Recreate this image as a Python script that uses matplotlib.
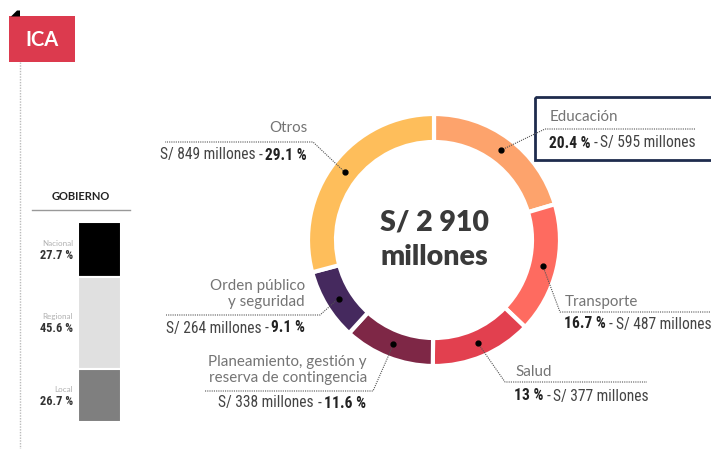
import matplotlib.pyplot as plt
import numpy as np
from matplotlib import font_manager
from matplotlib.patches import Rectangle, Polygon

# presupuesto por sector (millones de soles)
sectores = ['Educación', 'Transporte', 'Salud',
            'Planeamiento, gestión y\nreserva de contingencia',
            'Orden público\ny seguridad', 'Otros']
montos = [595, 487, 377, 338, 264, 849]
porcentajes = [20.4, 16.7, 13, 11.6, 9.1, 29.1]
colores = ['#FDA36C', '#FE6B60', '#E2404F', '#7E2746', '#45295E', '#FEBE5B']
total = 2910

# participacion por nivel de gobierno
niveles = ['Nacional', 'Regional', 'Local']
part_gob = [27.7, 45.6, 26.7]
colores_gob = ['#000000', '#E0E0E0', '#7F7F7F']

# fuente angosta para las cifras, si esta disponible
instaladas = {f.name for f in font_manager.fontManager.ttflist}
NUM_FONT, NUM_SIZE = 'Liberation Sans', 9.6
for fam, size in [('Roboto Condensed', 11.2), ('Liberation Sans Narrow', 11.5),
                  ('Open Sans Condensed', 11)]:
    if fam in instaladas:
        NUM_FONT, NUM_SIZE = fam, size
        break

W, H = 711, 449
fig = plt.figure(figsize=(W / 100, H / 100), dpi=100)
ax = fig.add_axes([0, 0, 1, 1])

cx, cy, R, ancho = 434, 240, 126, 28
# eje y invertido: se arranca en -90 y se gira en sentido antihorario
ax.pie(porcentajes, colors=colores, startangle=-90, counterclock=True,
       center=(cx, cy), radius=R,
       wedgeprops=dict(width=ancho, edgecolor='white', linewidth=3))
ax.set_xlim(0, W)
ax.set_ylim(H, 0)
ax.set_aspect('equal')
ax.axis('off')

ax.text(cx, 222, f'S/ {total // 1000} {total % 1000:03d}', ha='center', va='center',
        fontsize=20.5, fontweight='heavy', family='Lato', color='#3a3a3a')
ax.text(cx, 257, 'millones', ha='center', va='center',
        fontsize=20.5, fontweight='heavy', family='Lato', color='#3a3a3a')

renderer = fig.canvas.get_renderer()


def texto_mixto(x, y, partes, ha='left'):
    orden = partes if ha == 'left' else partes[::-1]
    for txt, peso in orden:
        t = ax.text(x, y, txt, ha=ha, va='center', fontsize=NUM_SIZE,
                    family=NUM_FONT, fontweight=peso,
                    color='#222222' if peso == 'bold' else '#444444')
        w = t.get_window_extent(renderer).width
        x = x + w + 3 if ha == 'left' else x - w - 3


# posicion de textos y quiebre de la linea guia para cada sector
disposicion = [
    dict(nx=550, ny=117, vx=549, vy=143, ha='left', codo=(545, 129), fin=695),
    dict(nx=565, ny=302, vx=564, vy=324, ha='left', codo=(560, 312), fin=711),
    dict(nx=515, ny=372, vx=514, vy=396, ha='left', codo=(505, 382), fin=647),
    dict(nx=367, ny=370, vx=366, vy=403, ha='right', codo=(373, 391), fin=205),
    dict(nx=305, ny=294, vx=305, vy=328, ha='right', codo=(320, 315), fin=166),
    dict(nx=308, ny=128, vx=307, vy=155, ha='right', codo=(313, 142), fin=165),
]

inicio = -90.0
for nombre, monto, pct, d in zip(sectores, montos, porcentajes, disposicion):
    medio = np.deg2rad(inicio + pct * 3.6 / 2)
    inicio += pct * 3.6
    px = cx + (R - ancho / 2) * np.cos(medio)
    py = cy + (R - ancho / 2) * np.sin(medio)
    ax.plot([px, d['codo'][0], d['fin']], [py, d['codo'][1], d['codo'][1]],
            color='#555555', lw=0.8, ls=(0, (1, 1)))
    ax.plot(px, py, 'o', color='black', ms=3.5)
    ax.text(d['nx'], d['ny'], nombre, ha=d['ha'], va='center', fontsize=10.9,
            family='Lato', color='#747474', linespacing=1.25)
    pct_txt = f'{pct:g} %'
    monto_txt = f'S/ {monto} millones'
    if d['ha'] == 'left':
        texto_mixto(d['vx'], d['vy'], [(pct_txt, 'bold'), ('-', 'normal'),
                                       (monto_txt, 'normal')], ha='left')
    else:
        texto_mixto(d['vx'], d['vy'], [(monto_txt, 'normal'), ('-', 'normal'),
                                       (pct_txt, 'bold')], ha='right')

# recuadro de Educacion
ax.add_patch(Rectangle((535, 97), 180, 63, fill=False, edgecolor='#1E2B4D', lw=2))

# encabezado de region
ax.plot([20, 20], [62, H], color='#bbbbbb', lw=1, ls=(0, (1, 1)))
ax.add_patch(Rectangle((9, 16), 66, 46, color='#DC3A4E', lw=0))
ax.add_patch(Polygon([(11, 16.5), (17, 10.5), (20, 10.5), (20, 16.5)],
                     color='black', lw=0))
ax.text(42, 40, 'ICA', ha='center', va='center', fontsize=14.5,
        fontweight='bold', family='Lato', color='white')

# barra apilada por nivel de gobierno
ax.text(81, 197, 'GOBIERNO', ha='center', va='center', fontsize=8,
        fontweight='bold', family='Lato', color='#222222')
ax.plot([32, 130], [210, 210], color='#999999', lw=1)

bx = fig.add_axes([78 / W, (H - 422) / H, 43 / W, 200 / H])
base = np.concatenate([[0], np.cumsum(part_gob)[:-1]])
bx.bar([0] * len(part_gob), part_gob, bottom=base, width=1, color=colores_gob,
       edgecolor='white', linewidth=1.5)
bx.set_xlim(-0.5, 0.5)
bx.set_ylim(100, 0)
bx.axis('off')

for nivel, valor, b in zip(niveles, part_gob, base):
    yc = 222 + 2 * (b + valor / 2)
    ax.text(73, yc - 6, nivel, ha='right', va='center', fontsize=5.8,
            family='Lato', color='#b0b0b0')
    ax.text(73, yc + 6, f'{valor} %', ha='right', va='center',
            fontsize=NUM_SIZE * 0.8, family=NUM_FONT, fontweight='bold',
            color='#333333')

fig.savefig('out.png', dpi=100)
